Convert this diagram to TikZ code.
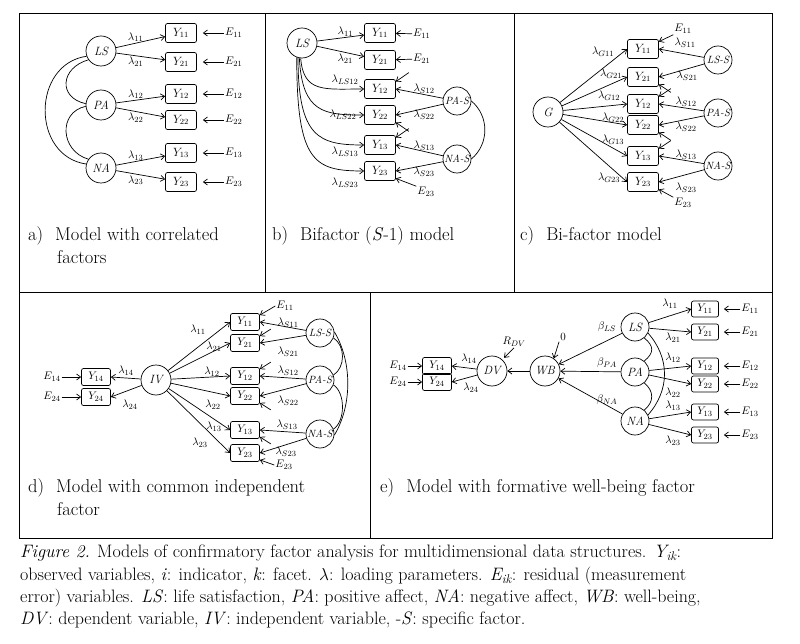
\documentclass[tikz,border=0pt]{standalone}
\usetikzlibrary{arrows.meta}
\begin{document}
\begin{tikzpicture}[x=1pt,y=-1pt,
 lat/.style={circle,draw,line width=0.7pt,minimum size=30pt,inner sep=0pt,font=\fontsize{12}{13}\selectfont\itshape},
 slat/.style={lat,minimum size=28pt,font=\fontsize{10.5}{11}\selectfont\itshape},
 obs/.style={draw,line width=0.7pt,rounded corners=2pt,minimum width=31pt,minimum height=19pt,inner sep=0pt,font=\fontsize{12}{13}\selectfont},
 sobs/.style={obs,minimum width=29pt,minimum height=17pt,font=\fontsize{11}{12}\selectfont},
 a/.style={-{Straight Barb[length=4pt,width=6pt]},line width=0.7pt},
 c/.style={line width=0.7pt},
 lab/.style={font=\fontsize{11}{12}\selectfont,inner sep=1pt},
 pcap/.style={font=\fontsize{18.5}{23}\selectfont,anchor=north west,align=left,inner sep=0pt},
 fcap/.style={font=\fontsize{18}{20}\selectfont,anchor=west,inner sep=0pt}]
\useasboundingbox (0,0) rectangle (800,644);
% frame
\draw[line width=1pt] (19,14) rectangle (772,538);
\draw[line width=1pt] (19,292) -- (772,292);
\draw[line width=1pt] (265,14) -- (265,292);
\draw[line width=1pt] (514,14) -- (514,292);
\draw[line width=1pt] (370,292) -- (370,538);

% ---------- panel a
\foreach \f/\fy/\k/\ya/\yb in {LS/51/1/33/62, PA/105/2/94/120, NA/168/3/153/182}{
 \node[lat] (a\f) at (101,\fy) {\f};
 \node[obs] (aY1\k) at (181,\ya) {$Y_{1\k}$};
 \node[obs] (aY2\k) at (181,\yb) {$Y_{2\k}$};
 \node[lab,anchor=west] (aE1\k) at (224,\ya) {$E_{1\k}$};
 \node[lab,anchor=west] (aE2\k) at (224,\yb) {$E_{2\k}$};
 \draw[a] (a\f) -- node[lab,above,pos=.4]{$\lambda_{1\k}$} (aY1\k);
 \draw[a] (a\f) -- node[lab,below,pos=.4]{$\lambda_{2\k}$} (aY2\k);
 \draw[a,shorten >=6pt] (aE1\k) -- (aY1\k);
 \draw[a,shorten >=6pt] (aE2\k) -- (aY2\k);
}
\draw[c] (aLS.215) .. controls +(-28,8) and +(-28,-6) .. (aPA.175);
\draw[c] (aPA.185) .. controls +(-28,6) and +(-28,-8) .. (aNA.145);
\draw[c] (aLS.200) .. controls +(-55,8) and +(-55,-8) .. (aNA.165);
\node[pcap] (acap) at (28,226) {a)\hspace{12pt}Model with correlated\\\hspace{29pt}factors};

% ---------- panel b
\node[lat] (bLS) at (302,43) {LS};
\node[obs] (bY11) at (380,33) {$Y_{11}$};
\node[obs] (bY21) at (380,60) {$Y_{21}$};
\node[obs] (bY12) at (380,89) {$Y_{12}$};
\node[obs] (bY22) at (380,115) {$Y_{22}$};
\node[obs] (bY13) at (380,145) {$Y_{13}$};
\node[obs] (bY23) at (380,171) {$Y_{23}$};
\node[slat] (bPAS) at (457,101) {PA-S};
\node[slat] (bNAS) at (457,159) {NA-S};
\node[lab,anchor=west] (bE11) at (412,34) {$E_{11}$};
\node[lab,anchor=west] (bE21) at (412,59) {$E_{21}$};
\node[lab] (bE23) at (426,192) {$E_{23}$};
\draw[a] (bE11) -- (bY11);
\draw[a] (bE21) -- (bY21);
\draw[a] (bLS) -- node[lab,above,pos=.6]{$\lambda_{11}$} (bY11);
\draw[a] (bLS) -- node[lab,below,pos=.6]{$\lambda_{21}$} (bY21);
\draw[a] (bLS.265) .. controls +(3,35) and +(-40,0) .. (bY12.west);
\draw[a] (bLS.260) .. controls +(3,55) and +(-40,0) .. (bY22.west);
\draw[a] (bLS.255) .. controls +(0,80) and +(-45,0) .. (bY13.west);
\draw[a] (bLS.250) .. controls +(0,105) and +(-50,0) .. (bY23.west);
\node[lab] (bl1) at (345,80) {$\lambda_{LS12}$};
\node[lab] (bl2) at (343,115) {$\lambda_{LS22}$};
\node[lab] (bl3) at (345,152) {$\lambda_{LS13}$};
\node[lab] (bl4) at (345,183) {$\lambda_{LS23}$};
\draw[a] (bPAS) -- node[lab,above,pos=.4]{$\lambda_{S12}$} (bY12.east);
\draw[a] (bPAS) -- node[lab,below,pos=.4]{$\lambda_{S22}$} (bY22.east);
\draw[a] (bNAS) -- node[lab,above,pos=.4]{$\lambda_{S13}$} (bY13.east);
\draw[a] (bNAS) -- node[lab,below,pos=.4]{$\lambda_{S23}$} (bY23.east);
\draw[a] (bY12.25) ++(13,-9) -- (bY12.25);
\draw[a] (bY22.-25) ++(13,9) -- (bY22.-25);
\draw[a] (bY13.25) ++(13,-9) -- (bY13.25);
\draw[a] (bE23.north west) -- (bY23.-25);
\draw[c] (bPAS.east) .. controls +(18,15) and +(18,-15) .. (bNAS.east);
\node[pcap] (bcap) at (272,226) {b)\hspace{12pt}Bifactor (\textit{S}-1) model};

% ---------- panel c
\node[lat] (cG) at (548,112) {G};
\foreach \n/\y in {11/49,21/77,12/104,22/125,13/156,23/182}{
 \node[obs] (cY\n) at (643,\y) {$Y_{\n}$};
 \draw[a] (cG) -- (cY\n.west);
}
\node[lab] at (603,52) {$\lambda_{G11}$};
\node[lab] at (611,74) {$\lambda_{G21}$};
\node[lab] at (609,96) {$\lambda_{G12}$};
\node[lab] at (613,118) {$\lambda_{G22}$};
\node[lab] at (613,140) {$\lambda_{G13}$};
\node[lab] at (609,178) {$\lambda_{G23}$};
\node[slat] (cLSS) at (718,60) {LS-S};
\node[slat] (cPAS) at (718,113) {PA-S};
\node[slat] (cNAS) at (718,166) {NA-S};
\draw[a] (cLSS) -- (cY11.east); \node[lab] at (685,43) {$\lambda_{S11}$};
\draw[a] (cLSS) -- (cY21.east); \node[lab] at (687,76) {$\lambda_{S21}$};
\draw[a] (cPAS) -- (cY12.east); \node[lab] at (686,102) {$\lambda_{S12}$};
\draw[a] (cPAS) -- (cY22.east); \node[lab] at (686,127) {$\lambda_{S22}$};
\draw[a] (cNAS) -- (cY13.east); \node[lab] at (686,155) {$\lambda_{S13}$};
\draw[a] (cNAS) -- (cY23.east); \node[lab] at (686,188) {$\lambda_{S23}$};
\node[lab] (cE11) at (683,29) {$E_{11}$};
\node[lab] (cE23) at (683,203) {$E_{23}$};
\draw[a] (cE11.south west) -- (cY11.25);
\draw[a] (cY21.-25) ++(12,8) -- (cY21.-25);
\draw[a] (cY12.25) ++(12,-8) -- (cY12.25);
\draw[a] (cY22.-25) ++(12,8) -- (cY22.-25);
\draw[a] (cY13.25) ++(12,-8) -- (cY13.25);
\draw[a] (cE23.north west) -- (cY23.-25);
\node[pcap] (ccap) at (520,226) {c)\hspace{12pt}Bi-factor model};

% ---------- panel d
\node[lat] (dIV) at (156,380) {IV};
\node[sobs] (dY14) at (96,377) {$Y_{14}$};
\node[sobs] (dY24) at (96,397) {$Y_{24}$};
\node[lab] (dE14) at (52,377) {$E_{14}$};
\node[lab] (dE24) at (52,397) {$E_{24}$};
\draw[a] (dE14) -- (dY14);
\draw[a] (dE24) -- (dY24);
\draw[a] (dIV) -- (dY14.east); \node[lab] at (126,371) {$\lambda_{14}$};
\draw[a] (dIV) -- (dY24.east); \node[lab] at (130,405) {$\lambda_{24}$};
\foreach \n/\y in {11/322,21/343,12/376,22/396,13/430,23/453}{
 \node[sobs] (dY\n) at (245,\y) {$Y_{\n}$};
 \draw[a] (dIV) -- (dY\n.west);
}
\node[lab] at (198,330) {$\lambda_{11}$};
\node[lab] at (214,347) {$\lambda_{21}$};
\node[lab] at (212,372) {$\lambda_{12}$};
\node[lab] at (213,405) {$\lambda_{22}$};
\node[lab] at (214,427) {$\lambda_{13}$};
\node[lab] at (200,443) {$\lambda_{23}$};
\node[slat] (dLSS) at (320,333) {LS-S};
\node[slat] (dPAS) at (320,380) {PA-S};
\node[slat] (dNAS) at (320,434) {NA-S};
\draw[a] (dLSS) -- (dY11.east); \node[lab] at (288,323) {$\lambda_{S11}$};
\draw[a] (dLSS) -- (dY21.east); \node[lab] at (288,352) {$\lambda_{S21}$};
\draw[a] (dPAS) -- (dY12.east); \node[lab] at (288,371) {$\lambda_{S12}$};
\draw[a] (dPAS) -- (dY22.east); \node[lab] at (288,401) {$\lambda_{S22}$};
\draw[a] (dNAS) -- (dY13.east); \node[lab] at (287,425) {$\lambda_{S13}$};
\draw[a] (dNAS) -- (dY23.east); \node[lab] at (286,452) {$\lambda_{S23}$};
\node[lab] (dE11) at (285,306) {$E_{11}$};
\node[lab] (dE23) at (284,465) {$E_{23}$};
\draw[a] (dE11.west) -- (dY11.25);
\draw[a] (dY21.25) ++(11,-7) -- (dY21.25);
\draw[a] (dY12.25) ++(11,-7) -- (dY12.25);
\draw[a] (dY22.-25) ++(11,7) -- (dY22.-25);
\draw[a] (dY13.-25) ++(11,7) -- (dY13.-25);
\draw[a] (dE23.west) -- (dY23.-25);
\draw[c] (dLSS.-20) .. controls +(12,8) and +(12,-8) .. (dPAS.20);
\draw[c] (dPAS.-20) .. controls +(12,8) and +(12,-8) .. (dNAS.20);
\draw[c] (dLSS.5) .. controls +(18,30) and +(18,-30) .. (dNAS.-5);
\node[pcap] (dcap) at (28,478) {d)\hspace{12pt}Model with common independent\\\hspace{29pt}factor};

% ---------- panel e
\node[lat] (eDV) at (492,371) {DV};
\node[lat] (eWB) at (545,371) {WB};
\node[lat,minimum size=28pt] (eLS) at (635,327) {LS};
\node[lat,minimum size=28pt] (ePA) at (635,372) {PA};
\node[lat,minimum size=28pt] (eNA) at (635,421) {NA};
\node[sobs] (eY14) at (437,366) {$Y_{14}$};
\node[sobs] (eY24) at (437,382) {$Y_{24}$};
\node[lab] (eE14) at (398,366) {$E_{14}$};
\node[lab] (eE24) at (398,382) {$E_{24}$};
\draw[a] (eE14) -- (eY14);
\draw[a] (eE24) -- (eY24);
\draw[a] (eDV) -- (eY14.east); \node[lab] at (469,359) {$\lambda_{14}$};
\draw[a] (eDV) -- (eY24.east); \node[lab] at (471,388) {$\lambda_{24}$};
\draw[a] (eWB) -- (eDV);
\node[lab] (eR) at (514,342) {$R_{DV}$};
\node[lab] (e0) at (563,337) {$0$};
\draw[a] (eR.south) -- ++(-10,10);
\draw[a] (e0.south west) -- (eWB.55);
\draw[a] (eLS) -- (eWB); \node[lab] at (607,327) {$\beta_{LS}$};
\draw[a] (ePA) -- (eWB); \node[lab] at (607,363) {$\beta_{PA}$};
\draw[a] (eNA) -- (eWB); \node[lab] at (607,400) {$\beta_{NA}$};
\foreach \n/\y in {11/309,21/332,12/366,22/384,13/412,23/435}{
 \node[obs,minimum width=27pt,minimum height=16pt,font=\fontsize{11}{12}\selectfont] (eY\n) at (705,\y) {$Y_{\n}$};
 \node[lab] (eE\n) at (750,\y) {$E_{\n}$};
 \draw[a,shorten >=5pt] (eE\n) -- (eY\n);
}
\draw[a] (eLS) -- (eY11.west); \node[lab] at (670,304) {$\lambda_{11}$};
\draw[a] (eLS) -- (eY21.west); \node[lab] at (673,338) {$\lambda_{21}$};
\draw[a] (ePA) -- (eY12.west); \node[lab] at (673,358) {$\lambda_{12}$};
\draw[a] (ePA) -- (eY22.west); \node[lab] at (673,393) {$\lambda_{22}$};
\draw[a] (eNA) -- (eY13.west); \node[lab] at (673,406) {$\lambda_{13}$};
\draw[a] (eNA) -- (eY23.west); \node[lab] at (673,441) {$\lambda_{23}$};
\draw[c] (eLS.-50) .. controls +(10,8) and +(10,-8) .. (ePA.50);
\draw[c] (ePA.-50) .. controls +(10,8) and +(10,-8) .. (eNA.50);
\draw[c] (eLS.-25) .. controls +(22,25) and +(22,-25) .. (eNA.25);
\node[pcap] (ecap) at (380,478) {e)\hspace{12pt}Model with formative well-being factor};

% ---------- caption
\node[fcap] (f1) at (20,553) {\textit{Figure 2.} Models of confirmatory factor analysis for multidimensional data structures. \textit{Y\textsubscript{ik}}:};
\node[fcap] (f2) at (20,576) {observed variables, \textit{i}: indicator, \textit{k}: facet. $\lambda$: loading parameters. \textit{E\textsubscript{ik}}: residual (measurement};
\node[fcap] (f3) at (20,598) {error) variables. \textit{LS}: life satisfaction, \textit{PA}: positive affect, \textit{NA}: negative affect, \textit{WB}: well-being,};
\node[fcap] (f4) at (20,620) {\textit{DV}: dependent variable, \textit{IV}: independent variable, -\textit{S}: specific factor.};
\end{tikzpicture}
\end{document}
